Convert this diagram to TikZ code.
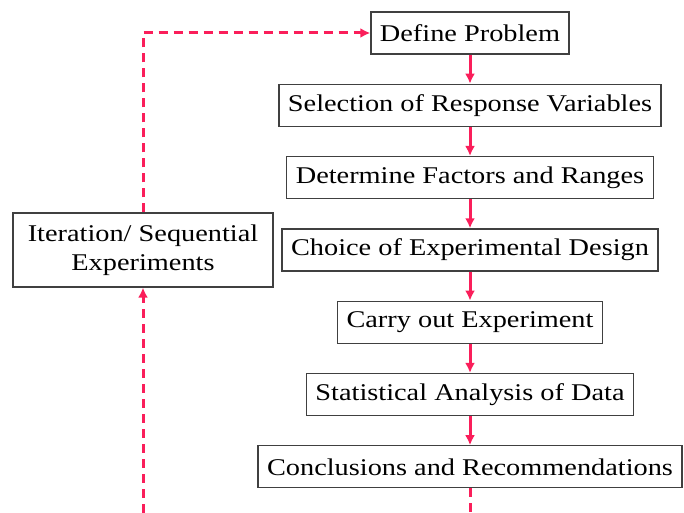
\documentclass[tikz,border=0pt]{standalone}
\usepackage{fontspec}
\setmainfont{Liberation Serif}[FakeStretch=1.18]
\usetikzlibrary{arrows.meta, positioning}
\definecolor{flowpink}{RGB}{250,30,90}

\begin{document}
\begin{tikzpicture}[x=1pt, y=-1pt, >={Latex[length=10pt,width=10pt]},
    node distance = 72.3pt, on grid,
    stepbox/.style={draw=black!75, line width=1.3pt, minimum height=42pt,
      inner xsep=9pt, font=\fontsize{24}{29}\selectfont},
    flow/.style={->, draw=flowpink, line width=3pt},
    loopback/.style={flow, dash pattern=on 9pt off 6pt}]
  \clip (0,0) rectangle (684,513);

  % Steps of the procedure
  \node[stepbox] (def)                     at (470,33) {Define Problem};
  \node[stepbox] (resp)  [below=of def]    {Selection of Response Variables};
  \node[stepbox] (fact)  [below=of resp]   {Determine Factors and Ranges};
  \node[stepbox] (des)   [below=of fact]   {Choice of Experimental Design};
  \node[stepbox] (run)   [below=of des]    {Carry out Experiment};
  \node[stepbox] (anal)  [below=of run]    {Statistical Analysis of Data};
  \node[stepbox] (concl) [below=of anal]   {Conclusions and Recommendations};
  \node[stepbox, align=center, minimum width=260pt, minimum height=74pt]
    (iter) at (143,250) {Iteration/ Sequential\\Experiments};
  \coordinate (lowturn) at (470,517);

  % Edges of the procedure
  \draw[flow] (def) -- (resp);
  \draw[flow] (resp) -- (fact);
  \draw[flow] (fact) -- (des);
  \draw[flow] (des) -- (run);
  \draw[flow] (run) -- (anal);
  \draw[flow] (anal) -- (concl);
  \draw[loopback] (concl) -- (lowturn) -| (iter);
  \draw[loopback] (iter) |- (def);
\end{tikzpicture}
\end{document}
